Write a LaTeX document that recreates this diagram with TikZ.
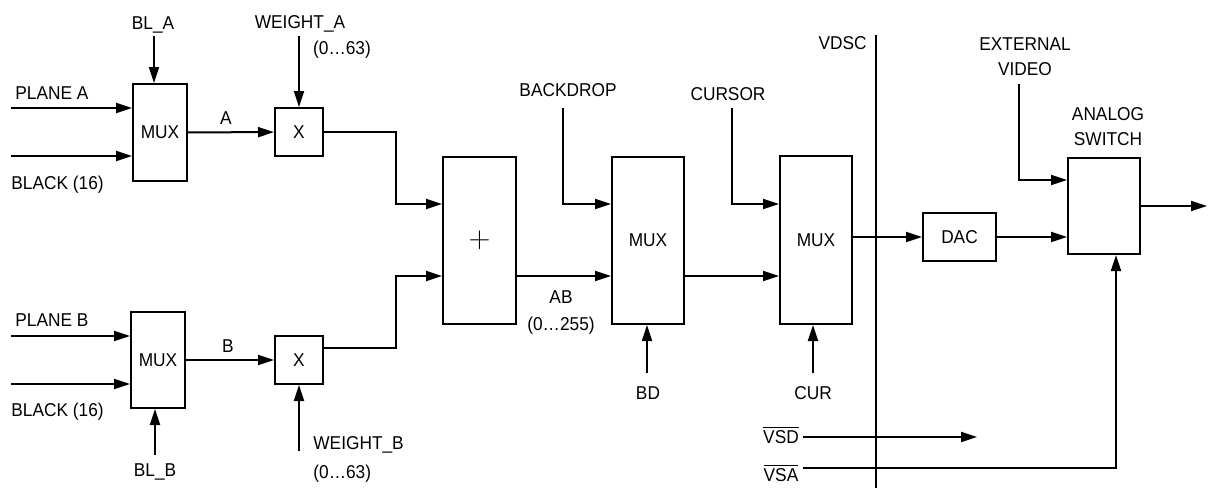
\documentclass[tikz,border=0pt]{standalone}
\usepackage{fontspec}
\setmainfont{Liberation Sans}[FakeStretch=0.93]
\usetikzlibrary{arrows.meta}

\begin{document}
\begin{tikzpicture}[
  x=0.5pt, y=-0.5pt,
  every node/.style={inner sep=1pt, font=\fontsize{9.3}{12.5}\selectfont},
  blk/.style={draw, line width=1pt, inner sep=0pt},
  lbl/.style={inner sep=0pt, text height=6.65pt, text depth=0pt},
  twoline/.style={inner sep=0pt, align=center, anchor=north},
  edge/.style={draw, line width=1pt},
  arrow/.style={draw, line width=1pt, -{Triangle[length=8pt, width=5pt]}}]

  \useasboundingbox (0,0) rectangle (1208,488);

  % ---- the blocks ---------------------------------------------------------
  \node[blk, minimum width=27pt, minimum height=48.5pt] (muxA) at (160,132.5) {MUX};
  \node[blk, minimum width=27pt, minimum height=48pt] (muxB) at (158,360) {MUX};
  \node[blk, minimum width=24pt, minimum height=24pt] (mulA) at (299,132) {X};
  \node[blk, minimum width=24pt, minimum height=24pt] (mulB) at (299,360) {X};
  \node[blk, minimum width=36.5pt, minimum height=83.5pt] (add) at (479.5,240.5)
    {\fontsize{15}{15}\selectfont$+$};
  \node[blk, minimum width=36pt, minimum height=83.5pt] (muxBD) at (648,240.5) {MUX};
  \node[blk, minimum width=36pt, minimum height=84pt] (muxCUR) at (816,240) {MUX};
  \node[blk, minimum width=36.5pt, minimum height=24pt] (dac) at (959.5,237) {DAC};
  \node[blk, minimum width=36pt, minimum height=48pt] (sw) at (1104,206) {};

  % ---- free ends of the connectors ----------------------------------------
  \coordinate (pA) at (11,108);
  \coordinate (kA) at (11,156);
  \coordinate (blA) at (154,36);
  \coordinate (wA) at (299,36);
  \coordinate (pB) at (11,336);
  \coordinate (kB) at (11,384);
  \coordinate (blB) at (155,455);
  \coordinate (wB) at (299,451);
  \coordinate (jA) at (396,204);
  \coordinate (jB) at (396,276);
  \coordinate (bdrop) at (563,108);
  \coordinate (bdsel) at (647,373);
  \coordinate (curs) at (732,108);
  \coordinate (cursel) at (813,373);
  \coordinate (ext) at (1019,84);
  \coordinate (out) at (1207,0);
  \coordinate (vsd) at (803,437);
  \coordinate (vsdend) at (977,437);
  \coordinate (vsa) at (803,468);
  \coordinate (vtop) at (876,35);
  \coordinate (vbot) at (876,488);

  % ---- plane A and plane B paths ------------------------------------------
  \draw[arrow] (pA) -- (pA -| muxA.west);
  \draw[arrow] (kA) -- (kA -| muxA.west);
  \draw[arrow] (blA) -- (blA |- muxA.north);
  \draw[arrow] (muxA) -- (mulA);
  \draw[arrow] (wA) -- (mulA.north);
  \draw[arrow] (mulA.east) -| (jA) -- (jA -| add.west);

  \draw[arrow] (pB) -- (pB -| muxB.west);
  \draw[arrow] (kB) -- (kB -| muxB.west);
  \draw[arrow] (blB) -- (blB |- muxB.south);
  \draw[arrow] (muxB) -- (mulB);
  \draw[arrow] (wB) -- (mulB.south);
  \draw[arrow] ([yshift=6pt]mulB.east) -| (jB) -- (jB -| add.west);

  % ---- sum, backdrop and cursor -------------------------------------------
  \draw[arrow] (jB -| add.east) -- (jB -| muxBD.west);
  \draw[arrow] (bdrop) |- (jA -| muxBD.west);
  \draw[arrow] (bdsel) -- (bdsel |- muxBD.south);
  \draw[arrow] (jB -| muxBD.east) -- (jB -| muxCUR.west);
  \draw[arrow] (curs) |- (jA -| muxCUR.west);
  \draw[arrow] (cursel) -- (cursel |- muxCUR.south);

  % ---- converter and analog switch ----------------------------------------
  \draw[edge] (vtop) -- (vbot);
  \draw[arrow] (dac.west -| muxCUR.east) -- (dac.west);
  \draw[arrow] (dac.east) -- (dac.east -| sw.west);
  \draw[arrow] (ext) |- ([yshift=13pt]sw.west);
  \draw[arrow] (sw.east) -- (sw.east -| out);
  \draw[arrow] (vsd) -- (vsdend);
  \draw[arrow] (vsa) -| ([xshift=6pt]sw.south);

  % ---- labels -------------------------------------------------------------
  \node[lbl, anchor=west] (tplaneA) at (15,93) {PLANE A};
  \node[lbl, anchor=west] (tblackA) at (11,183) {BLACK (16)};
  \node[lbl] (tblA) at (153,23) {BL\_A};
  \node[lbl] (tweightA) at (300,22) {WEIGHT\_A};
  \node[lbl] (trangeA) at (342,48) {(0…63)};
  \node[lbl] (tA) at (226,118) {A};

  \node[lbl, anchor=west] (tplaneB) at (15,320) {PLANE B};
  \node[lbl, anchor=west] (tblackB) at (11,410) {BLACK (16)};
  \node[lbl] (tblB) at (155,470) {BL\_B};
  \node[lbl, anchor=west] (tweightB) at (313,443) {WEIGHT\_B};
  \node[lbl, anchor=west] (trangeB) at (313,472) {(0…63)};
  \node[lbl] (tB) at (228,346) {B};

  \node[lbl] (tAB) at (561,297) {AB};
  \node[lbl] (trangeAB) at (561,324) {(0…255)};
  \node[lbl] (tbackdrop) at (568,90) {BACKDROP};
  \node[lbl] (tcursor) at (728,94) {CURSOR};
  \node[lbl] (tBD) at (648,393) {BD};
  \node[lbl] (tCUR) at (813,393) {CUR};
  \node[lbl, anchor=east] (tvdsc) at (867,43) {VDSC};
  \node[twoline] (text) at (1025,37) {EXTERNAL\\VIDEO};
  \node[twoline] (tanalog) at (1108,107) {ANALOG\\SWITCH};
  \node[lbl] (tvsd) at (781,437) {$\overline{\mbox{VSD}}$};
  \node[lbl] (tvsa) at (781,475) {$\overline{\mbox{VSA}}$};
\end{tikzpicture}
\end{document}
